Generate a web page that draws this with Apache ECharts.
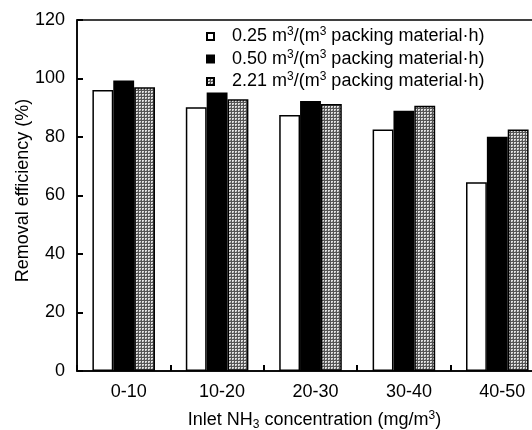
<!DOCTYPE html>
<html>
<head>
<meta charset="utf-8">
<script src="https://cdn.jsdelivr.net/npm/echarts@6/dist/echarts.min.js"></script>
<style>
html,body{margin:0;padding:0;background:#fff;}
#chart{width:532px;height:430px;}
</style>
</head>
<body>
<div id="chart"></div>
<script>
const categories = ['0-10', '10-20', '20-30', '30-40', '40-50'];
const rate025 = [96.1, 90.2, 87.5, 82.6, 64.5];
const rate050 = [99.3, 95.2, 92.3, 89.0, 80.1];
const rate221 = [97.0, 92.9, 91.3, 90.7, 82.6];
const seriesNames = ['0.25', '0.50', '2.21'];
const yTicks = [0, 20, 40, 60, 80, 100, 120];

const FONT = 'Arial, "Liberation Sans", sans-serif';
const FS = 18;

// dotted gray pattern
const pc = document.createElement('canvas');
pc.width = 3; pc.height = 3;
const ctx = pc.getContext('2d');
ctx.fillStyle = '#e0e0e0';
ctx.fillRect(0, 0, 3, 3);
ctx.fillStyle = '#555';
ctx.fillRect(0, 0, 3, 1);
ctx.fillRect(0, 0, 1, 3);
ctx.fillStyle = '#999';
ctx.fillRect(2, 2, 1, 1);
const pattern = { image: pc, repeat: 'repeat' };

const chart = echarts.init(document.getElementById('chart'), null, { renderer: 'canvas' });

const supRich = {
  a: { fontSize: FS, fontFamily: FONT, color: '#000', lineHeight: 21 },
  sup: { fontSize: 12, fontFamily: FONT, color: '#000', verticalAlign: 'top' },
  sub: { fontSize: 12, fontFamily: FONT, color: '#000', verticalAlign: 'bottom' }
};

function mkSeries(name, data, color) {
  return {
    name: name,
    type: 'bar',
    data: data,
    barGap: '0%',
    barCategoryGap: '33%',
    itemStyle: { color: color, borderColor: '#000', borderWidth: 1.5 },
    emphasis: { disabled: true },
    animation: false
  };
}

chart.setOption({
  animation: false,
  backgroundColor: '#fff',
  grid: {
    left: 77, top: 20, width: 467, height: 351,
    containLabel: false,
    outerBoundsMode: 'none',
    show: true, borderColor: '#000', borderWidth: 1.5, backgroundColor: 'transparent'
  },
  legend: {
    orient: 'vertical',
    left: 201, top: 21,
    itemWidth: 7, itemHeight: 7, itemGap: 3,
    icon: 'rect',
    data: seriesNames,
    formatter: function (n) {
      return '{a|' + n + ' m}{sup|3}{a|/(m}{sup|3}{a| packing material·h)}';
    },
    textStyle: { padding: [0, 0, 0, 13], rich: supRich, color: '#000' }
  },
  xAxis: {
    type: 'category',
    data: categories,
    boundaryGap: true,
    z: 10,
    axisLine: { show: true, lineStyle: { color: '#000', width: 1.5 } },
    axisTick: { show: true, inside: true, interval: 0, length: 6, alignWithLabel: false, lineStyle: { color: '#000', width: 2 } },
    axisLabel: { color: '#000', fontSize: FS, fontFamily: FONT, margin: 12, interval: 0, padding: [0, 0, 0, 10] },
    name: '{a|Inlet NH}{sub|3}{a| concentration (mg/m}{sup|3}{a|)}',
    nameLocation: 'middle',
    nameGap: 39,
    nameTextStyle: { rich: supRich, padding: [0, 0, 0, 8] }
  },
  yAxis: {
    type: 'value',
    min: 0, max: 120, interval: 20,
    z: 10,
    splitLine: { show: false },
    axisLine: { show: true, lineStyle: { color: '#000', width: 1.5 } },
    axisTick: { show: true, inside: true, length: 6, lineStyle: { color: '#000', width: 2 } },
    axisLabel: {
      color: '#000', fontSize: FS, fontFamily: FONT, margin: 12,
      formatter: function (v) { return yTicks.indexOf(v) >= 0 ? String(v) : ''; }
    },
    name: 'Removal efficiency (%)',
    nameLocation: 'middle',
    nameGap: 45,
    nameMoveOverlap: false,
    nameTextStyle: { color: '#000', fontSize: FS, fontFamily: FONT, padding: [0, 0, 0, 10] }
  },
  series: [
    mkSeries(seriesNames[0], rate025, '#fff'),
    mkSeries(seriesNames[1], rate050, '#000'),
    mkSeries(seriesNames[2], rate221, pattern)
  ]
});
</script>
</body>
</html>
